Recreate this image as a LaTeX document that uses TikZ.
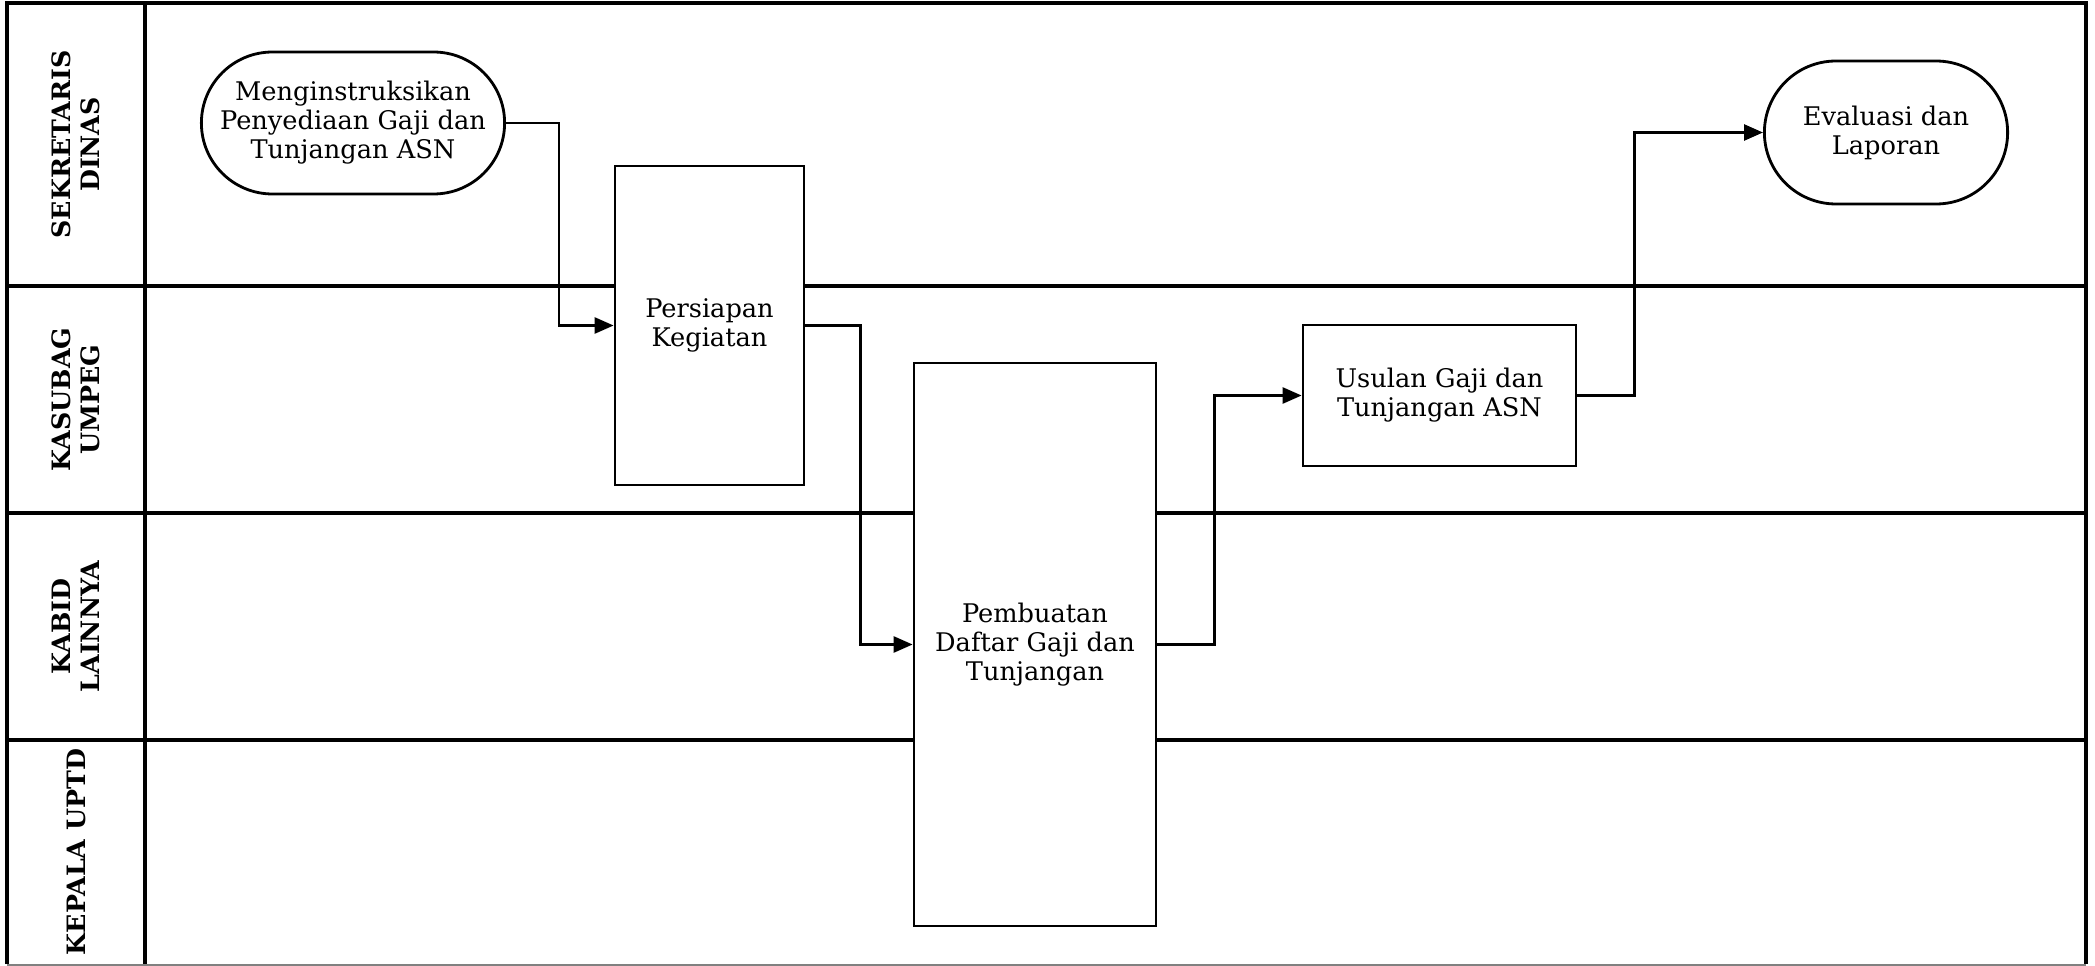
\documentclass[tikz,border=0pt]{standalone}
\usepackage{fontspec}
\setmainfont{DejaVu Serif}
\usetikzlibrary{shapes,arrows.meta,positioning,calc}

\begin{document}
\begin{tikzpicture}[x=0.02cm,y=-0.02cm,
    lane/.style={line width=2pt},
    proses/.style={draw, rectangle, line width=1.6pt, fill=white, align=center, font=\fontsize{14.6}{16.5}\selectfont},
    terminal/.style={draw, rounded rectangle, line width=1.6pt, fill=white, align=center, font=\fontsize{14.6}{16.5}\selectfont},
    alur/.style={line width=1.5pt, -{Triangle[length=0.38cm,width=0.32cm]}},
    judul/.style={rotate=90, align=center, font=\bfseries\fontsize{14.4}{16.5}\selectfont}]
                \useasboundingbox (0,0) rectangle (2095,966);
                % swimlane frame
                \draw[lane] (7,964) -- (7,3) -- (2086,3) -- (2086,964);
                \draw[gray, line width=0.8pt] (7,965) -- (2086,965);
                \draw[lane] (145,3) -- (145,964);
                \foreach \y in {286,513,740}
                    \draw[lane] (7,\y) -- (2086,\y);
                % lane titles
                \node[judul] (sekretaris) at (76,144.5) {SEKRETARIS\\DINAS};
                \node[judul] (kasubag) at (76,399.5) {KASUBAG\\UMPEG};
                \node[judul] (kabid) at (76,626.5) {KABID\\LAINNYA};
                \node[judul] (uptd) at (76,852) {KEPALA UPTD};
                % steps
                \node[terminal, minimum width=6.3cm, minimum height=2.84cm] (mulai) at (353,123) {Menginstruksikan\\Penyediaan Gaji dan\\Tunjangan ASN};
                \node[proses, minimum width=3.78cm, minimum height=6.38cm] (persiapan) at (709.5,325.5) {Persiapan\\Kegiatan};
                \node[proses, minimum width=4.84cm, minimum height=11.26cm] (pembuatan) at (1035,644.5) {Pembuatan\\Daftar Gaji dan\\Tunjangan};
                \node[proses, minimum width=5.46cm, minimum height=2.82cm] (usulan) at (1439.5,395.5) {Usulan Gaji dan\\Tunjangan ASN};
                \node[terminal, minimum width=5.1cm, minimum height=2.86cm] (evaluasi) at (1886,132.5) {Evaluasi dan\\Laporan};
                % flow
                \draw[alur] (mulai.east) -- ++(53,0) |- (persiapan.west);
                \draw[alur] (persiapan.east) -- ++(55,0) |- (pembuatan.west);
                \draw[alur] (pembuatan.east) -- ++(57,0) |- (usulan.west);
                \draw[alur] (usulan.east) -- ++(57,0) |- (evaluasi.west);
            \end{tikzpicture}
\end{document}
